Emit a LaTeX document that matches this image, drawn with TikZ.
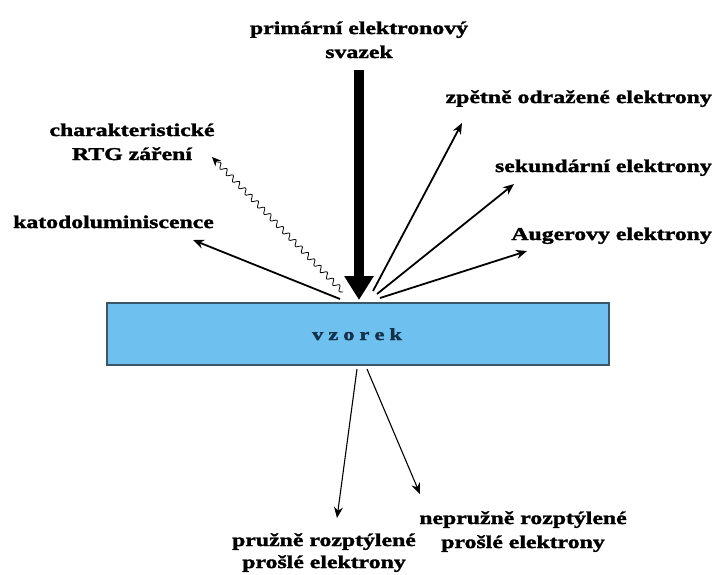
\documentclass[tikz,border=0pt]{standalone}
\usepackage{fontspec}
\setmainfont{Liberation Serif}[FakeStretch=1.32, BoldFeatures={FakeBold=1.8}]
\usetikzlibrary{arrows.meta,decorations.pathmorphing}
\definecolor{boxfill}{HTML}{6EC1EF}
\definecolor{boxline}{HTML}{3A5668}
\definecolor{navy}{HTML}{15304A}
\tikzset{
  lbl/.style={font=\bfseries\fontsize{18}{24}\selectfont, inner sep=0pt, align=center},
  emit/.style={line width=1.8pt, -{Stealth[length=11pt,width=9pt]}},
  trans/.style={line width=1.1pt, -{Stealth[length=11pt,width=9pt]}},
  xray/.style={line width=0.8pt, decoration={snake, amplitude=2.6pt, segment length=9pt, post length=6pt}, decorate},
  beam/.style={line width=10pt, -{Triangle[length=24pt,width=28pt]}},
}
\begin{document}
\begin{tikzpicture}[x=1pt,y=-1pt]
\useasboundingbox (0,0) rectangle (717,574);
% sample
\node (vz) [draw=boxline, line width=1.5pt, fill=boxfill, minimum width=502pt, minimum height=62pt, inner sep=0pt] at (358,334) {};
\node (vzt) [font=\bfseries\fontsize{17}{20}\selectfont, text=navy, anchor=base] at (357,340) {v\hspace{5pt}z\hspace{5pt}o\hspace{5pt}r\hspace{5pt}e\hspace{5pt}k};
% labels (anchor base = baseline of last line)
\node (prim) [lbl, anchor=base] at (359,58) {primární elektronový\\svazek};
\node (zp) [lbl, anchor=base east] at (712,103) {zpětně odražené elektrony};
\node (sek) [lbl, anchor=base east] at (712,172) {sekundární elektrony};
\node (aug) [lbl, anchor=base east] at (712,240) {Augerovy elektrony};
\node (kat) [lbl, anchor=base west] at (13,228) {katodoluminiscence};
\node (rtg) [lbl, anchor=base] at (132,160) {charakteristické\\RTG záření};
\node (pru) [lbl, font=\bfseries\fontsize{18}{22}\selectfont, anchor=base] at (324,568) {pružně rozptýlené\\prošlé elektrony};
\node (npru) [lbl, anchor=base] at (523,548) {nepružně rozptýlené\\prošlé elektrony};
% coordinates
\coordinate (bTop) at (359,70);
\coordinate (bTip) at (359,300);
\coordinate (s1) at (373,291);
\coordinate (e1) at (462,123);
\coordinate (s2) at (377,294);
\coordinate (e2) at (514,184);
\coordinate (s3) at (380,298);
\coordinate (e3) at (527,251);
\coordinate (s4) at (340,299);
\coordinate (e4) at (193,240);
\coordinate (s5) at (343,292);
\coordinate (e5) at (212,157);
\coordinate (s6) at (357,369);
\coordinate (e6) at (337,518);
\coordinate (s7) at (367,369);
\coordinate (e7) at (420,494);
% arrows
\draw[beam] (bTop) -- (bTip);
\draw[emit] (s1) -- (e1);
\draw[emit] (s2) -- (e2);
\draw[emit] (s3) -- (e3);
\draw[emit] (s4) -- (e4);
\draw[xray, -{Stealth[length=9pt,width=8pt]}] (s5) -- (e5);
\draw[trans] (s6) -- (e6);
\draw[trans] (s7) -- (e7);
\end{tikzpicture}
\end{document}
